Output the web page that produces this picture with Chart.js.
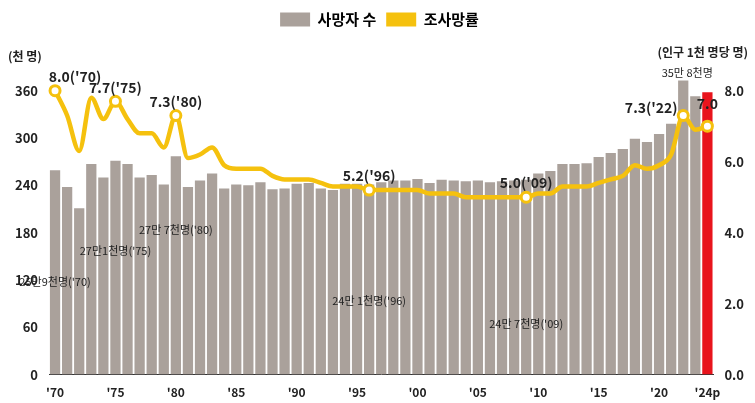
<!DOCTYPE html><html><head><meta charset="utf-8">
<script src="https://cdn.jsdelivr.net/npm/chart.js@4"></script>
<style>body{margin:0;background:#fff}#w{width:755px;height:403px;position:relative}</style></head><body><div id="w"><canvas id="c"></canvas></div>
<script>
const years=[];for(let y=1970;y<=2024;y++)years.push(y);
const deaths=[259,238,211,267,250,271,267,250,253,241,277,238,246,255,236,241,240,244,235,236,242,243,236,234,242,242,241,244,246,246,248,243,247,246,245,246,244,245,246,247,255,258,267,267,268,276,281,286,299,295,305,318,373,353,358];
const rate=[8.0,7.3,6.3,7.8,7.2,7.7,7.2,6.8,6.8,6.4,7.3,6.1,6.2,6.4,5.9,5.8,5.8,5.8,5.6,5.5,5.5,5.5,5.4,5.3,5.3,5.3,5.2,5.2,5.2,5.2,5.2,5.1,5.1,5.1,5.0,5.0,5.0,5.0,5.0,5.0,5.1,5.1,5.3,5.3,5.3,5.4,5.5,5.6,5.9,5.8,5.9,6.2,7.3,6.9,7.0];
const tickYears={1970:"'70",1975:"'75",1980:"'80",1985:"'85",1990:"'90",1995:"'95",2000:"'00",2005:"'05",2010:"'10",2015:"'15",2020:"'20",2024:"'24p"};
const rateLabels={1970:"8.0('70)",1975:"7.7('75)",1980:"7.3('80)",1996:"5.2('96)",2009:"5.0('09)",2022:"7.3('22)",2024:"7.0"};
const barNotes=[[1970,118,"25만9천명('70)"],[1975,157,"27만1천명('75)"],[1980,183,"27만 7천명('80)"],[1996,93,"24만 1천명('96)"],[2009,65,"24만 7천명('09)"],[2022,383,"35만 8천명"]];
const F="'Noto Sans CJK KR','Noto Sans',sans-serif";
const gold='#f5c10e';
const ann={id:'ann',afterDatasetsDraw(ch){const c=ch.ctx,x=ch.scales.x,y=ch.scales.y,r=ch.scales.y1;
c.save();c.textAlign='center';c.fillStyle='#222';
c.font="bold 14px "+F;
for(const k in rateLabels){const i=years.indexOf(+k);let px=x.getPixelForValue(i),py=r.getPixelForValue(rate[i])-14;
if(+k===2022){px-=32;py+=6;}
if(+k===1970)px+=20;
if(+k===2024)py-=8;
c.fillText(rateLabels[k],px,py);}
c.font="11px "+F;
for(const [yr,v,t] of barNotes){const i=years.indexOf(yr);let px=x.getPixelForValue(i);if(yr===2022)px+=4;c.fillText(t,px,y.getPixelForValue(v));}
c.font="bold 12px "+F;c.textAlign='left';c.fillText('(천 명)',8,56);c.textAlign='right';c.fillText('(인구 1천 명당 명)',748,52);
c.restore();}};
new Chart(document.getElementById('c'),{data:{labels:years,datasets:[
{type:'line',label:'조사망률',data:rate,yAxisID:'y1',borderColor:gold,borderWidth:4.5,cubicInterpolationMode:'monotone',
pointRadius:years.map(y=>rateLabels[y]?5:0),pointBackgroundColor:'#fff',pointBorderColor:gold,pointBorderWidth:3,order:0},
{type:'bar',label:'사망자 수',data:deaths,yAxisID:'y',backgroundColor:years.map(y=>y===2024?'#e8141c':'#aaa19b'),categoryPercentage:1,barPercentage:0.85,order:1}]},
plugins:[ann,{id:'lp',beforeInit(ch){const f=ch.legend.fit;ch.legend.fit=function(){f.bind(ch.legend)();this.height+=30;};}}],
options:{responsive:true,maintainAspectRatio:false,animation:false,layout:{padding:{left:12,right:8,top:2}},
plugins:{tooltip:{enabled:false},legend:{position:'top',labels:{font:{family:F,size:15,weight:'bold'},color:'#333',boxWidth:30,boxHeight:14,padding:10,
generateLabels(ch){return [{text:'사망자 수',fillStyle:'#aaa19b',strokeStyle:'#aaa19b',lineWidth:0,datasetIndex:1},{text:'조사망률',fillStyle:gold,strokeStyle:gold,lineWidth:0,datasetIndex:0}];}}}},
scales:{x:{grid:{display:false},border:{color:'#333'},ticks:{autoSkip:false,maxRotation:0,font:{family:F,size:12,weight:'bold'},color:'#222',callback:(v,i)=>tickYears[years[i]]||''}},
y:{min:0,max:390,position:'left',grid:{display:false},border:{display:false},afterBuildTicks(a){a.ticks=[0,60,120,180,240,300,360].map(v=>({value:v}));},ticks:{font:{family:F,size:13,weight:'bold'},color:'#222'}},
y1:{min:0,max:390/45,position:'right',grid:{display:false},border:{display:false},afterBuildTicks(a){a.ticks=[0,2,4,6,8].map(v=>({value:v}));},ticks:{font:{family:F,size:13,weight:'bold'},color:'#222',callback:v=>v.toFixed(1)}}}}});
</script></body></html>
